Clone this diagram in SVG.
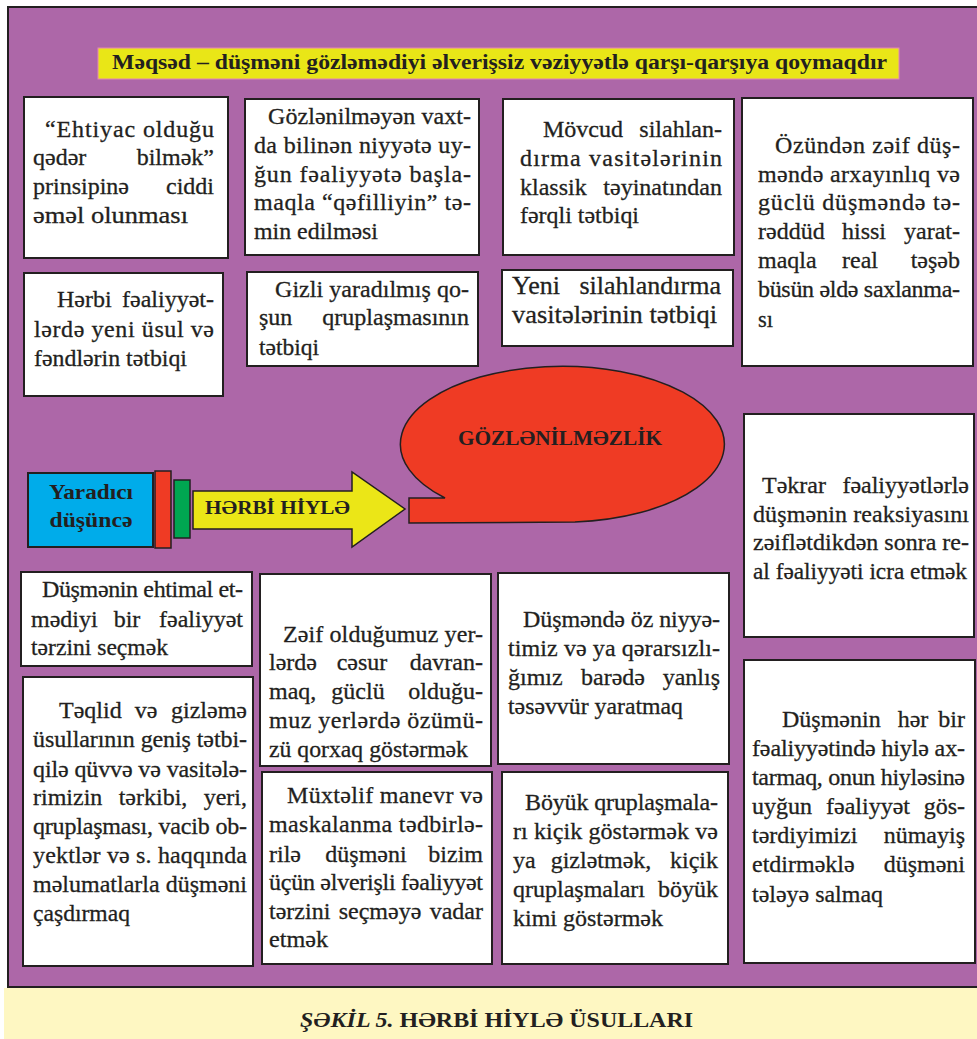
<svg xmlns="http://www.w3.org/2000/svg" width="977" height="1039" viewBox="0 0 977 1039">
<style>
.box{fill:#ffffff;stroke:#231f20;stroke-width:2}
.t{font-family:"Liberation Serif","DejaVu Serif","Times New Roman",serif;font-size:24px;fill:#231f20;stroke:#231f20;stroke-width:0.3}
.b{font-family:"Liberation Serif","DejaVu Serif","Times New Roman",serif;font-weight:bold;fill:#231f20}
.e{text-anchor:end}
.m{text-anchor:middle}
</style>
<rect x="0" y="0" width="977" height="1039" fill="#ffffff"/>
<rect id="frame" x="8" y="7" width="1000" height="980" fill="#ad67a8" stroke="#231f20" stroke-width="2"/>
<rect x="4" y="988" width="973" height="51" fill="#fef7c2"/>

<g id="title">
<rect x="98" y="48" width="801" height="31" fill="#e9e617" stroke="#e486b8" stroke-width="1"/>
<text class="b" x="112" y="69" font-size="20" textLength="775" lengthAdjust="spacingAndGlyphs">Məqsəd – düşməni gözləmədiyi əlverişsiz vəziyyətlə qarşı-qarşıya qoymaqdır</text>
</g>

<g id="box1">
<rect class="box" x="24" y="97" width="204" height="161"/>
<text class="t" x="45" y="137" textLength="169" lengthAdjust="spacing">“Ehtiyac olduğu</text>
<text class="t" x="33" y="165">qədər</text><text class="t e" x="214" y="165">bilmək”</text>
<text class="t" x="33" y="194">prinsipinə</text><text class="t e" x="214" y="194">ciddi</text>
<text class="t" x="33" y="223" textLength="155" lengthAdjust="spacingAndGlyphs">əməl olunması</text>
</g>

<g id="box2">
<rect class="box" x="245" y="99" width="234" height="156"/>
<text class="t" x="268" y="124" textLength="203" lengthAdjust="spacing">Gözlənilməyən vaxt-</text>
<text class="t" x="254" y="153" textLength="217" lengthAdjust="spacing">da bilinən niyyətə uy-</text>
<text class="t" x="254" y="182" textLength="217" lengthAdjust="spacing">ğun  fəaliyyətə başla-</text>
<text class="t" x="254" y="210" textLength="217" lengthAdjust="spacing">maqla “qəfilliyin” tə-</text>
<text class="t" x="254" y="239" textLength="124" lengthAdjust="spacingAndGlyphs">min edilməsi</text>
</g>

<g id="box3">
<rect class="box" x="24" y="273" width="199" height="123"/>
<text class="t" x="57" y="307">Hərbi</text><text class="t e" x="214" y="307">fəaliyyət-</text>
<text class="t" x="34" y="337" textLength="180" lengthAdjust="spacing">lərdə yeni üsul və</text>
<text class="t" x="34" y="366" textLength="153" lengthAdjust="spacingAndGlyphs">fəndlərin tətbiqi</text>
</g>

<g id="box4">
<rect class="box" x="247" y="272" width="231" height="94"/>
<text class="t" x="275" y="297" textLength="194" lengthAdjust="spacing">Gizli yaradılmış qo-</text>
<text class="t" x="259" y="325">şun</text><text class="t e" x="469" y="325">qruplaşmasının</text>
<text class="t" x="259" y="355" textLength="60" lengthAdjust="spacingAndGlyphs">tətbiqi</text>
</g>

<g id="box5">
<rect class="box" x="503" y="99" width="231" height="156"/>
<text class="t" x="543" y="137">Mövcud</text><text class="t e" x="722" y="137">silahlan-</text>
<text class="t" x="520" y="166" textLength="202" lengthAdjust="spacing">dırma vasitələrinin</text>
<text class="t" x="520" y="195">klassik</text><text class="t e" x="722" y="195">təyinatından</text>
<text class="t" x="520" y="223" textLength="119" lengthAdjust="spacingAndGlyphs">fərqli tətbiqi</text>
</g>

<g id="box6">
<rect class="box" x="502" y="270" width="231" height="76"/>
<text class="t" x="512" y="294" style="font-size:26px">Yeni</text><text class="t e" x="721" y="294" style="font-size:26px">silahlandırma</text>
<text class="t" x="512" y="323" style="font-size:26px" textLength="205" lengthAdjust="spacingAndGlyphs">vasitələrinin tətbiqi</text>
</g>

<g id="box7">
<rect class="box" x="742" y="98" width="231" height="268"/>
<text class="t" x="775" y="153" textLength="185" lengthAdjust="spacing">Özündən  zəif  düş-</text>
<text class="t" x="758" y="182" textLength="202" lengthAdjust="spacing">məndə arxayınlıq və</text>
<text class="t" x="758" y="210" textLength="202" lengthAdjust="spacing">güclü  düşməndə  tə-</text>
<text class="t" x="758" y="239">rəddüd</text><text class="t m" x="864" y="239">hissi</text><text class="t e" x="960" y="239">yarat-</text>
<text class="t" x="758" y="268">maqla</text><text class="t m" x="860" y="268">real</text><text class="t e" x="960" y="268">təşəb</text>
<text class="t" x="758" y="297" textLength="202" lengthAdjust="spacing">büsün əldə saxlanma-</text>
<text class="t" x="758" y="327" textLength="15" lengthAdjust="spacingAndGlyphs">sı</text>
</g>

<g id="yaradici-dusunce">
<rect x="28" y="473" width="125" height="74" fill="#00acea" stroke="#231f20" stroke-width="2"/>
<text class="b m" x="91" y="499" font-size="21" textLength="84" lengthAdjust="spacingAndGlyphs">Yaradıcı</text>
<text class="b m" x="91" y="527" font-size="21" textLength="83" lengthAdjust="spacingAndGlyphs">düşüncə</text>
</g>
<g id="red-strip">
<rect x="155" y="471" width="16" height="77" fill="#ef3b24" stroke="#231f20" stroke-width="1.5"/>
</g>
<g id="green-strip">
<rect x="174" y="480" width="16" height="58" fill="#00a651" stroke="#231f20" stroke-width="1.5"/>
</g>

<g id="connectors">
<g id="herbi-hiyle-arrow">
<path d="M193,491 L352,491 L352,472 L405,509 L352,547 L352,529 L193,529 Z" fill="#ebe617" stroke="#231f20" stroke-width="1.5"/>
<text class="b" x="205" y="514" font-size="19" textLength="145" lengthAdjust="spacingAndGlyphs">HƏRBİ HİYLƏ</text>
</g>
</g>

<g id="gozlenilmezlik">
<path d="M409,498 L445,498 A162 78 0 1 1 575,522 L409,523 Z" fill="#ef3b24" stroke="#231f20" stroke-width="1.5"/>
<text class="b" x="458" y="445" font-size="20" textLength="204" lengthAdjust="spacingAndGlyphs">GÖZLƏNİLMƏZLİK</text>
</g>

<g id="box14">
<rect class="box" x="744" y="414" width="230" height="223"/>
<text class="t" x="762" y="493">Təkrar</text><text class="t e" x="969" y="493">fəaliyyətlərlə</text>
<text class="t" x="753" y="522" textLength="216" lengthAdjust="spacing">düşmənin reaksiyasını</text>
<text class="t" x="753" y="550" textLength="216" lengthAdjust="spacing">zəiflətdikdən sonra re-</text>
<text class="t" x="753" y="579" textLength="214" lengthAdjust="spacingAndGlyphs">al fəaliyyəti icra etmək</text>
</g>

<g id="box8">
<rect class="box" x="21" y="572" width="231" height="94"/>
<text class="t" x="42" y="597" textLength="201" lengthAdjust="spacing">Düşmənin ehtimal et-</text>
<text class="t" x="31" y="627">mədiyi</text><text class="t m" x="127" y="627">bir</text><text class="t e" x="243" y="627">fəaliyyət</text>
<text class="t" x="31" y="655" textLength="137" lengthAdjust="spacingAndGlyphs">tərzini seçmək</text>
</g>

<g id="box9">
<rect class="box" x="23" y="677" width="230" height="289"/>
<text class="t" x="59" y="718">Təqlid</text><text class="t m" x="146" y="718">və</text><text class="t e" x="247" y="718">gizləmə</text>
<text class="t" x="33" y="747" textLength="214" lengthAdjust="spacing">üsullarının geniş tətbi-</text>
<text class="t" x="33" y="777" textLength="214" lengthAdjust="spacing">qilə qüvvə və vasitələ-</text>
<text class="t" x="33" y="805">rimizin</text><text class="t m" x="153" y="805">tərkibi,</text><text class="t e" x="247" y="805">yeri,</text>
<text class="t" x="33" y="834" textLength="214" lengthAdjust="spacing">qruplaşması, vacib ob-</text>
<text class="t" x="33" y="863" textLength="214" lengthAdjust="spacing">yektlər və s. haqqında</text>
<text class="t" x="33" y="892" textLength="214" lengthAdjust="spacing">məlumatlarla düşməni</text>
<text class="t" x="33" y="921" textLength="97" lengthAdjust="spacingAndGlyphs">çaşdırmaq</text>
</g>

<g id="box10">
<rect class="box" x="260" y="574" width="231" height="192"/>
<text class="t" x="283" y="642" textLength="200" lengthAdjust="spacing">Zəif olduğumuz yer-</text>
<text class="t" x="269" y="670">lərdə</text><text class="t m" x="362" y="670">cəsur</text><text class="t e" x="483" y="670">davran-</text>
<text class="t" x="269" y="699">maq,</text><text class="t m" x="358" y="699">güclü</text><text class="t e" x="483" y="699">olduğu-</text>
<text class="t" x="269" y="728" textLength="214" lengthAdjust="spacing">muz yerlərdə özümü-</text>
<text class="t" x="269" y="757" textLength="199" lengthAdjust="spacingAndGlyphs">zü qorxaq göstərmək</text>
</g>

<g id="box11">
<rect class="box" x="262" y="772" width="230" height="192"/>
<text class="t" x="287" y="803" textLength="196" lengthAdjust="spacing">Müxtəlif manevr və</text>
<text class="t" x="269" y="832" textLength="214" lengthAdjust="spacing">maskalanma tədbirlə-</text>
<text class="t" x="269" y="862">rilə</text><text class="t m" x="366" y="862">düşməni</text><text class="t e" x="483" y="862">bizim</text>
<text class="t" x="269" y="890" textLength="214" lengthAdjust="spacing">üçün əlverişli fəaliyyət</text>
<text class="t" x="269" y="919">tərzini</text><text class="t m" x="380" y="919">seçməyə</text><text class="t e" x="483" y="919">vadar</text>
<text class="t" x="269" y="947" textLength="59" lengthAdjust="spacingAndGlyphs">etmək</text>
</g>

<g id="box12">
<rect class="box" x="498" y="573" width="231" height="191"/>
<text class="t" x="523" y="627" textLength="197" lengthAdjust="spacing">Düşməndə öz niyyə-</text>
<text class="t" x="508" y="656" textLength="212" lengthAdjust="spacing">timiz və ya qərarsızlı-</text>
<text class="t" x="508" y="685">ğımız</text><text class="t m" x="613" y="685">barədə</text><text class="t e" x="720" y="685">yanlış</text>
<text class="t" x="508" y="714" textLength="175" lengthAdjust="spacingAndGlyphs">təsəvvür yaratmaq</text>
</g>

<g id="box13">
<rect class="box" x="502" y="772" width="226" height="192"/>
<text class="t" x="525" y="810" textLength="193" lengthAdjust="spacing">Böyük qruplaşmala-</text>
<text class="t" x="513" y="839" textLength="205" lengthAdjust="spacing">rı kiçik göstərmək və</text>
<text class="t" x="513" y="868">ya</text><text class="t m" x="601" y="868">gizlətmək,</text><text class="t e" x="718" y="868">kiçik</text>
<text class="t" x="513" y="897">qruplaşmaları</text><text class="t e" x="718" y="897">böyük</text>
<text class="t" x="513" y="926" textLength="150" lengthAdjust="spacingAndGlyphs">kimi göstərmək</text>
</g>

<g id="box15">
<rect class="box" x="744" y="660" width="231" height="303"/>
<text class="t" x="782" y="727">Düşmənin</text><text class="t m" x="913" y="727">hər</text><text class="t e" x="965" y="727">bir</text>
<text class="t" x="752" y="756" textLength="213" lengthAdjust="spacing">fəaliyyətində hiylə ax-</text>
<text class="t" x="752" y="785" textLength="213" lengthAdjust="spacing">tarmaq, onun hiyləsinə</text>
<text class="t" x="752" y="814">uyğun</text><text class="t m" x="868" y="814">fəaliyyət</text><text class="t e" x="965" y="814">gös-</text>
<text class="t" x="752" y="843">tərdiyimizi</text><text class="t e" x="965" y="843">nümayiş</text>
<text class="t" x="752" y="872">etdirməklə</text><text class="t e" x="965" y="872">düşməni</text>
<text class="t" x="752" y="902" textLength="131" lengthAdjust="spacingAndGlyphs">tələyə salmaq</text>
</g>

<g id="caption">
<text class="b" x="300" y="1027" font-size="22" textLength="393" lengthAdjust="spacingAndGlyphs"><tspan font-style="italic">ŞƏKİL 5.</tspan> HƏRBİ HİYLƏ ÜSULLARI</text>
</g>
</svg>
